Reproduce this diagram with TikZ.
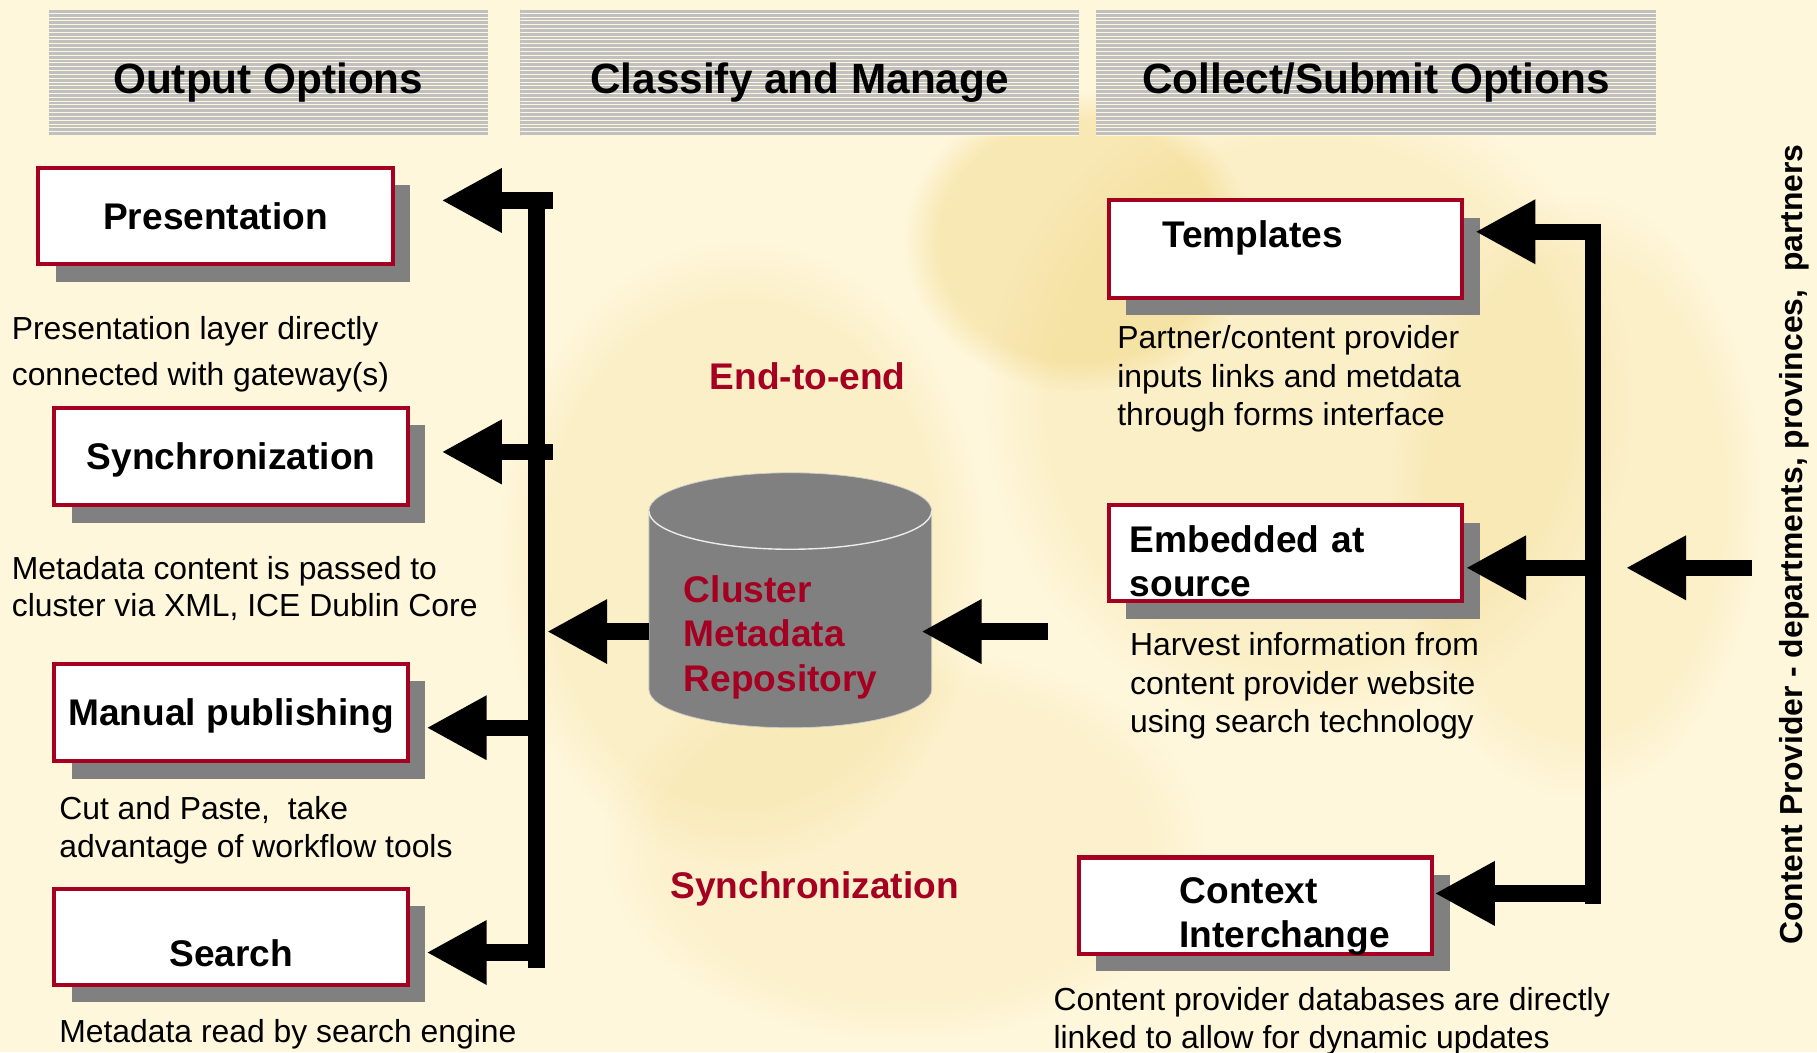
\documentclass[tikz,border=0pt]{standalone}
\usepackage{fontspec}
\setmainfont{Liberation Sans}
\usetikzlibrary{arrows.meta,shadows,fadings}
\definecolor{crm}{RGB}{255,247,220}
\definecolor{rdx}{RGB}{165,0,33}
\definecolor{gax}{RGB}{128,128,128}
\definecolor{stx}{RGB}{192,192,192}
\definecolor{blx}{RGB}{235,200,90}
\newcommand\hdrfont{\fontsize{36.5}{44}\selectfont\bfseries}
\newcommand\boxfont{\fontsize{32}{38}\selectfont\bfseries}
\newcommand\descfont{\fontsize{27.5}{33}\selectfont}
\tikzset{
    hdr/.style={fill=stx,inner sep=0pt,minimum height=109pt,font=\hdrfont,text height=36pt,text depth=0pt,
        path picture={\foreach \k [evaluate=\k as \yy using \k*3.3] in {0,...,33}
            \draw[crm,line width=0.9pt] ([yshift=\yy pt]path picture bounding box.south west)
                -- ([yshift=\yy pt]path picture bounding box.south east);}},
    optbox/.style={draw=rdx,line width=3.5pt,fill=white,minimum width=305pt,minimum height=84pt,
        inner sep=4pt,font=\boxfont,
        drop shadow={shadow xshift=15pt,shadow yshift=-15pt,fill=gax,opacity=1}},
    onel/.style={text height=23pt,text depth=0pt},
    descr/.style={font=\descfont,align=left,anchor=base west,inner sep=0pt},
    redtxt/.style={text=rdx,font=\boxfont,inner sep=0pt},
    blob/.style={fill=blx,path fading=circle with fuzzy edge 20 percent},
    bus/.style={line width=14pt},
    fatarr/.style={line width=14pt,-{Triangle[length=52pt,width=52pt]}}
}
\begin{document}
\begin{tikzpicture}[x=1pt,y=1pt]
    \useasboundingbox (0,0) rectangle (1568,908);
    \fill[crm] (0,0) rectangle (1568,908);
    % faint backdrop
    \fill[blob,opacity=.30] (930,700) ellipse [x radius=150,y radius=130];
    \fill[blob,opacity=.16] (640,430) ellipse [x radius=210,y radius=270];
    \fill[blob,opacity=.16] (1130,560) ellipse [x radius=280,y radius=280];
    \fill[blob,opacity=.12] (780,180) ellipse [x radius=260,y radius=170];
    \fill[blob,opacity=.14] (1360,480) ellipse [x radius=160,y radius=260];

    % headings
    \node[hdr,minimum width=379pt] (hout) at (231.5,845.5) {Output Options};
    \node[hdr,minimum width=482pt] (hcls) at (690,845.5) {Classify and Manage};
    \node[hdr,minimum width=483pt] (hcol) at (1187.5,845.5) {Collect/Submit Options};

    % output side
    \node[optbox,onel,minimum width=306pt,minimum height=83pt] (pres) at (186,721.5) {Presentation};
    \node[optbox,onel] (sync) at (199.5,514) {Synchronization};
    \node[optbox,onel] (manual) at (199.5,293) {Manual publishing};
    \node[optbox,minimum height=83pt,text height=51pt,text depth=0pt] (search) at (199.5,99.5) {Search};

    \node[descr] (presdesc) at (10,575) {Presentation layer directly\\[7pt]connected with gateway(s)};
    \node[descr] (syncdesc) at (10,376) {Metadata content is passed to\\[-1pt]cluster via XML, ICE Dublin Core};
    \node[descr] (mandesc) at (51,168) {Cut and Paste,\ \ take\\advantage of workflow tools};
    \node[descr] (srchdesc) at (51,8) {Metadata read by search engine};

    % collect side
    \node[optbox,align=left,text width=213pt,inner xsep=46pt,text height=25pt,text depth=28pt] (tmpl) at (1109.5,693) {Templates};
    \node[optbox,align=left,text width=269pt,inner xsep=18pt,minimum height=83pt,text height=32pt,text depth=32.7pt] (embed) at (1109.5,430.5) {Embedded at\\source};
    \node[optbox,align=left,text width=131pt,inner xsep=87pt,minimum height=83pt,text height=32pt,text depth=36pt] (ctx) at (1083.5,126.5) {Context\\Interchange};

    \node[descr] (tmpldesc) at (964,541) {Partner/content provider\\inputs links and metdata\\through forms interface};
    \node[descr] (embdesc) at (975,276) {Harvest information from\\content provider website\\using search technology};
    \node[descr] (ctxdesc) at (909,3) {Content provider databases are directly\\linked to allow for dynamic updates};

    % repository
    \fill[gax] (560,467) -- (560,313) arc[start angle=180,end angle=360,x radius=122,y radius=33]
        -- (804,467) arc[start angle=0,end angle=180,x radius=122,y radius=33] -- cycle;
    \draw[white!60!gax,line width=0.6pt] (560,467) -- (560,313) arc[start angle=180,end angle=360,x radius=122,y radius=33]
        -- (804,467) arc[start angle=0,end angle=180,x radius=122,y radius=33];
    \draw[white!85!gax,line width=1.2pt] (560,467) arc[start angle=180,end angle=360,x radius=122,y radius=33];
    \node[redtxt,align=left,anchor=west,font=\fontsize{32}{38.5}\selectfont\bfseries] (repo) at (590,358) {Cluster\\Metadata\\Repository};

    \node[redtxt] (e2e) at (697,583) {End-to-end};
    \node[redtxt] (syncr) at (703,141) {Synchronization};
    \node[font=\fontsize{27.5}{33}\selectfont\bfseries,rotate=90] (cprov) at (1548,438) {Content Provider - departments, provinces,\ \ partners};

    % left bus
    \coordinate (lbtop) at (463,741);
    \coordinate (lbbot) at (463,73);
    \coordinate (lb1) at (477,735);
    \coordinate (lb2) at (477,518);
    \coordinate (lb3) at (463,280);
    \coordinate (lb4) at (470,86);
    \coordinate (presin) at (381,735);
    \coordinate (syncin) at (381,518);
    \coordinate (manin) at (368,280);
    \coordinate (srchin) at (368,86);
    \coordinate (repow) at (560,363);
    \coordinate (lbin) at (472,363);
    \draw[bus] (lbtop) -- (lbbot);
    \draw[fatarr] (lb1) -- (presin);
    \draw[fatarr] (lb2) -- (syncin);
    \draw[fatarr] (lb3) -- (manin);
    \draw[fatarr] (lb4) -- (srchin);
    \draw[fatarr] (repow) -- (lbin);

    % right bus
    \coordinate (rbtop) at (1375,715);
    \coordinate (rbbot) at (1375,128);
    \coordinate (rb1) at (1382,708);
    \coordinate (rb2) at (1375,418);
    \coordinate (rb3) at (1375,137);
    \coordinate (tmplin) at (1273,708);
    \coordinate (embin) at (1265,418);
    \coordinate (ctxin) at (1238,137);
    \coordinate (ext) at (1512,418);
    \coordinate (rbin) at (1403,418);
    \coordinate (feed) at (904,363);
    \coordinate (repoe) at (795,363);
    \draw[bus] (rbtop) -- (rbbot);
    \draw[fatarr] (rb1) -- (tmplin);
    \draw[fatarr] (rb2) -- (embin);
    \draw[fatarr] (rb3) -- (ctxin);
    \draw[fatarr] (ext) -- (rbin);
    \draw[fatarr] (feed) -- (repoe);
\end{tikzpicture}
\end{document}
